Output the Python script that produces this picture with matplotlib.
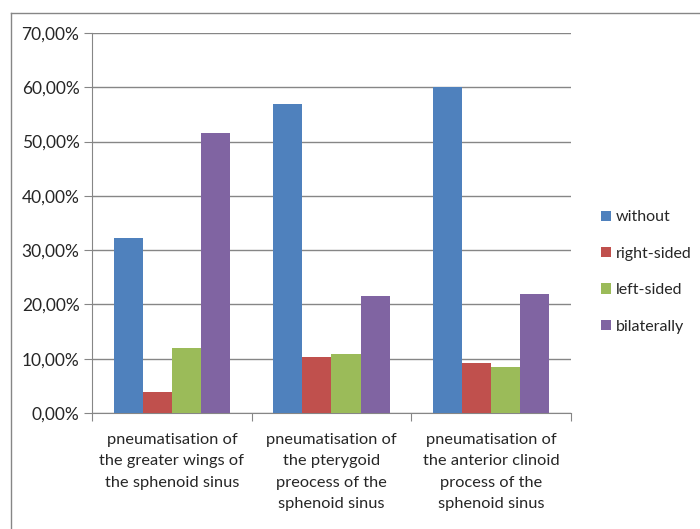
import numpy as np
import matplotlib
matplotlib.use('Agg')
from matplotlib import pyplot as plt
from matplotlib.lines import Line2D

# data (percent)
categories = ['pneumatisation of\nthe greater wings of\nthe sphenoid sinus',
              'pneumatisation of\nthe pterygoid\npreocess of the\nsphenoid sinus',
              'pneumatisation of\nthe anterior clinoid\nprocess of the\nsphenoid sinus']
series = ['without', 'right-sided', 'left-sided', 'bilaterally']
without = [32.3, 56.9, 60.0]
right_sided = [3.9, 10.4, 9.3]
left_sided = [12.0, 10.9, 8.5]
bilaterally = [51.5, 21.5, 22.0]
yticks = [0, 10, 20, 30, 40, 50, 60, 70]

colors = ['#4F81BD', '#C0504D', '#9BBB59', '#8064A2']
values = [without, right_sided, left_sided, bilaterally]

plt.rcParams['font.family'] = ['Lato', 'DejaVu Sans']
grey = '#868686'
txtcol = '#262626'

fig = plt.figure(figsize=(7, 5.29), dpi=100)
ax = fig.add_axes([92/700, 1-413/529, 479/700, 380/529])

x = np.arange(len(categories))
w = 1/5.5
for i, (vals, col, lab) in enumerate(zip(values, colors, series)):
    ax.bar(x + (i-1.5)*w, vals, width=w, color=col, label=lab, zorder=3)

ax.set_xlim(-0.5, len(categories)-0.5)
ax.set_ylim(0, 70)
ax.set_yticks(yticks)
ax.set_yticklabels(['%d,00%%' % v for v in yticks], fontsize=12.5, color=txtcol)
ax.yaxis.grid(True, color=grey, linewidth=1, zorder=0)
ax.tick_params(axis='y', length=6, color=grey, pad=3)

# category labels centred, tick marks at category boundaries
ax.set_xticks(np.arange(-0.5, len(categories)))
ax.set_xticklabels([])
ax.tick_params(axis='x', length=6, color=grey)
for xi, lab in zip(x, categories):
    ax.text(xi, -3.6, lab, ha='center', va='top', fontsize=11.8, color=txtcol,
            linespacing=1.68)

for s in ['top', 'right']:
    ax.spines[s].set_visible(False)
for s in ['left', 'bottom']:
    ax.spines[s].set_color(grey)

leg = fig.legend(loc='center left', bbox_to_anchor=(587/700, 1-272/529), frameon=False,
                 fontsize=11.5, handlelength=0.6, handleheight=0.6, handletextpad=0.3,
                 labelspacing=1.4)
for t in leg.get_texts():
    t.set_color(txtcol)

# outer chart border (top and left edges visible)
fig.add_artist(Line2D([11/700, 1.0], [1-13/529, 1-13/529], color=grey, linewidth=1,
                      transform=fig.transFigure))
fig.add_artist(Line2D([11/700, 11/700], [0, 1-13/529], color=grey, linewidth=1,
                      transform=fig.transFigure))

fig.savefig('out.png', dpi=100)
